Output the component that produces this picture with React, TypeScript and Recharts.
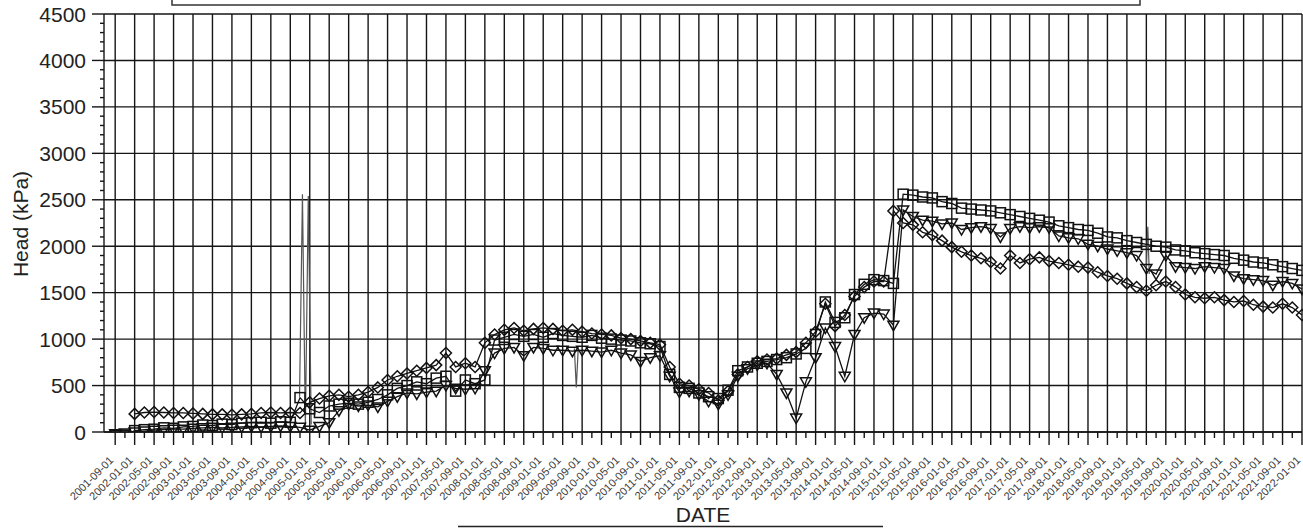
import React from "react";
import { LineChart, Line, XAxis, YAxis, ReferenceLine } from "recharts";

// x = months since 2001-09-01 (bimonthly readings)
const months = [
  0, 2, 4, 6, 8, 10, 12, 14, 16, 18, 20, 22, 24, 26, 28, 30, 32, 34, 36, 38,
  40, 42, 44, 46, 48, 50, 52, 54, 56, 58, 60, 62, 64, 66, 68, 70, 72, 74, 76, 78,
  80, 82, 84, 86, 88, 90, 92, 94, 96, 98, 100, 102, 104, 106, 108, 110, 112, 114, 116, 118,
  120, 122, 124, 126, 128, 130, 132, 134, 136, 138, 140, 142, 144, 146, 148, 150, 152, 154, 156, 158,
  160, 162, 164, 166, 168, 170, 172, 174, 176, 178, 180, 182, 184, 186, 188, 190, 192, 194, 196, 198,
  200, 202, 204, 206, 208, 210, 212, 214, 216, 218, 220, 222, 224, 226, 228, 230, 232, 234, 236, 238,
  240, 242, 244,
];

// Head (kPa), square markers
const squareHead = [
  -35, -35, 15, 25, 30, 45, 40, 55, 60, 75,
  70, 85, 80, 95, 100, 105, 95, 110, 105, 370,
  250, 210, 280, 300, 310, 300, 320, 350, 400, 470,
  500, 540, 520, 580, 600, 440, 560, 520, 560, 990,
  1020, 1050, 1030, 1050, 1020, 1060, 1040, 1030, 1020, 1040,
  1010, 1000, 990, 980, 960, 950, 920, 620, 480, 470,
  420, 380, 360, 450, 660, 700, 740, 760, 780, 800,
  840, 900, 1050, 1400, 1180, 1230, 1480, 1590, 1640, 1630,
  1600, 2560, 2550, 2530, 2520, 2480, 2460, 2410, 2400, 2390,
  2380, 2360, 2340, 2320, 2300, 2280, 2260, 2220, 2200, 2180,
  2170, 2140, 2100, 2090, 2060, 2040, 2020, 2000, 1990, 1960,
  1950, 1930, 1920, 1910, 1900, 1870, 1850, 1830, 1820, 1800,
  1780, 1760, 1740,
];

// Head (kPa), inverted triangle markers
const triangleHead = [
  -20, -10, 0, 10, 20, 25, 30, 30, 40, 45,
  50, 45, 50, 55, 60, 55, 60, 65, 60, 50,
  20, 60, 100, 230, 300, 280, 290, 270, 330, 380,
  420, 410, 430, 440, 500, 470, 460, 470, 660, 850,
  900, 910, 820, 910, 900, 880, 880, 870, 880, 870,
  860, 880, 850, 830, 760, 800, 820, 600, 430, 440,
  400, 330, 300, 400, 600, 680, 720, 740, 620, 420,
  150, 540, 800, 1120, 920, 600, 1050, 1230, 1280, 1270,
  1150, 2390, 2320, 2280, 2270, 2240, 2250, 2180, 2200, 2210,
  2190, 2100, 2190, 2210, 2200, 2210, 2200, 2110, 2090, 2080,
  2020, 2000, 1970, 1950, 1930, 1900, 1760, 1700, 1900, 1780,
  1770, 1760, 1780, 1770, 1760, 1680, 1650, 1640, 1630, 1580,
  1620, 1600, 1540,
];

// Head (kPa), diamond markers
const diamondHead = [
  null, null, 195, 210, 215, 210, 205, 205, 200, 195,
  190, 190, 185, 190, 195, 205, 210, 205, 210, 205,
  320, 360, 390, 400, 380, 400, 430, 480, 560, 600,
  630, 660, 690, 720, 850, 700, 740, 700, 960, 1050,
  1100, 1120, 1090, 1110, 1120, 1110, 1090, 1100, 1080, 1060,
  1050, 1040, 1010, 1000, 980, 960, 940, 700, 520, 500,
  460, 420, 340, 440, 620, 700, 760, 780, 790, 830,
  860, 960, 1080, 1380, 1140, 1260, 1460, 1560, 1620, 1620,
  2380, 2250, 2230, 2150, 2120, 2060, 1990, 1940, 1900, 1870,
  1830, 1760, 1900, 1820, 1860, 1880, 1840, 1820, 1800, 1780,
  1770, 1720, 1680, 1650, 1600, 1560, 1520, 1580, 1620, 1560,
  1480, 1450, 1440, 1450, 1420, 1400, 1410, 1370, 1350, 1340,
  1380, 1340, 1260,
];

// short-lived readings drawn as a thin line (null breaks the line)
const spikeMonths = [37.9, 38.5, 39.1, 39.7, 40.3, 41, 94.4, 94.8, 95.2, 96, 212.0, 212.3, 212.6];
const spikeHeads = [380, 2560, 60, 2540, 80, null, 900, 480, 900, null, 1760, 2210, 1700];

const dateLabels = [
  "2001-09-01",
  "2002-01-01", "2002-05-01", "2002-09-01",
  "2003-01-01", "2003-05-01", "2003-09-01",
  "2004-01-01", "2004-05-01", "2004-09-01",
  "2005-01-01", "2005-05-01", "2005-09-01",
  "2006-01-01", "2006-05-01", "2006-09-01",
  "2007-01-01", "2007-05-01", "2007-09-01",
  "2008-01-01", "2008-05-01", "2008-09-01",
  "2009-01-01", "2009-05-01", "2009-09-01",
  "2010-01-01", "2010-05-01", "2010-09-01",
  "2011-01-01", "2011-05-01", "2011-09-01",
  "2012-01-01", "2012-05-01", "2012-09-01",
  "2013-01-01", "2013-05-01", "2013-09-01",
  "2014-01-01", "2014-05-01", "2014-09-01",
  "2015-01-01", "2015-05-01", "2015-09-01",
  "2016-01-01", "2016-05-01", "2016-09-01",
  "2017-01-01", "2017-05-01", "2017-09-01",
  "2018-01-01", "2018-05-01", "2018-09-01",
  "2019-01-01", "2019-05-01", "2019-09-01",
  "2020-01-01", "2020-05-01", "2020-09-01",
  "2021-01-01", "2021-05-01", "2021-09-01",
  "2022-01-01",
];
const dateTickMonths = dateLabels.map((_, i) => i * 4);

const headMajor = [0, 500, 1000, 1500, 2000, 2500, 3000, 3500, 4000, 4500];
const headMinor: number[] = [];
for (let v = 0; v <= 4500; v += 100) headMinor.push(v);

const rows = months.map((m, i) => ({
  m,
  square: squareHead[i],
  triangle: triangleHead[i],
  diamond: diamondHead[i],
}));
const spikeRows = spikeMonths.map((m, i) => ({ m, v: spikeHeads[i] }));

const FONT = "'Liberation Sans', Arial, sans-serif";
const INK = "#151515";

const HeadTick = (props: any) => {
  const { x, y, payload } = props;
  const v = payload.value;
  const major = v % 500 === 0;
  return (
    <g>
      <line x1={x - (major ? 12 : 4)} y1={y} x2={x} y2={y} stroke={INK} strokeWidth={1.4} />
      {major && (
        <text x={x - 18} y={y} textAnchor="end" dominantBaseline="central" fontSize={21} fill="#222" fontFamily={FONT}>
          {v}
        </text>
      )}
    </g>
  );
};

const DateTick = (props: any) => {
  const { x, y, payload } = props;
  const m = payload.value;
  const major = m % 4 === 0;
  const tx = x - 1;
  const ty = y + 29;
  return (
    <g>
      <line x1={x} y1={y} x2={x} y2={y + (major ? 13 : 6)} stroke={INK} strokeWidth={1.4} />
      {major && (
        <text x={tx} y={ty} transform={`rotate(-45 ${tx} ${ty})`} textAnchor="end" fontSize={11} fill="#3a3a3a" fontFamily={FONT}>
          {dateLabels[m / 4]}
        </text>
      )}
    </g>
  );
};

const SquareDot = (p: any) => {
  if (p.cy == null || p.cx == null) return <g key={p.index} />;
  return <rect key={p.index} x={p.cx - 5} y={p.cy - 5} width={10} height={10} fill="none" stroke="#111" strokeWidth={1.5} />;
};
const TriangleDot = (p: any) => {
  if (p.cy == null || p.cx == null) return <g key={p.index} />;
  const { cx, cy } = p;
  return <path key={p.index} d={`M${cx - 5.5},${cy - 4} L${cx + 5.5},${cy - 4} L${cx},${cy + 5.5} Z`} fill="none" stroke="#111" strokeWidth={1.5} />;
};
const DiamondDot = (p: any) => {
  if (p.cy == null || p.cx == null) return <g key={p.index} />;
  const { cx, cy } = p;
  return <path key={p.index} d={`M${cx},${cy - 5.5} L${cx + 5.5},${cy} L${cx},${cy + 5.5} L${cx - 5.5},${cy} Z`} fill="none" stroke="#111" strokeWidth={1.5} />;
};

export default function App() {
  return (
    <div style={{ position: "absolute", left: 0, top: 0, width: 1303, height: 528, background: "#fff" }}>
      <LineChart width={1303} height={528} data={rows} margin={{ top: 14, right: 1, left: 0, bottom: 0 }}>
        {headMajor.map((v) => (
          <ReferenceLine key={`h${v}`} y={v} stroke={INK} strokeWidth={1.4} />
        ))}
        {dateTickMonths.map((m) => (
          <ReferenceLine key={`v${m}`} x={m} stroke={INK} strokeWidth={1.4} />
        ))}
        <XAxis
          type="number"
          dataKey="m"
          domain={[-2.3, 244]}
          ticks={months}
          interval={0}
          height={96}
          tickSize={0}
          tickMargin={0}
          tickLine={false}
          axisLine={{ stroke: INK, strokeWidth: 1.4 }}
          tick={(p: any) => <DateTick {...p} />}
        />
        <YAxis
          type="number"
          domain={[0, 4500]}
          allowDataOverflow
          ticks={headMinor}
          interval={0}
          width={104}
          tickSize={0}
          tickMargin={0}
          tickLine={false}
          axisLine={{ stroke: INK, strokeWidth: 1.4 }}
          tick={(p: any) => <HeadTick {...p} />}
        />
        <Line data={spikeRows} dataKey="v" stroke="#555" strokeWidth={1.2} dot={false} activeDot={false} isAnimationActive={false} />
        <Line dataKey="square" stroke="#111" strokeWidth={1.3} dot={SquareDot} activeDot={false} isAnimationActive={false} />
        <Line dataKey="triangle" stroke="#111" strokeWidth={1.3} dot={TriangleDot} activeDot={false} isAnimationActive={false} />
        <Line dataKey="diamond" stroke="#111" strokeWidth={1.3} dot={DiamondDot} activeDot={false} isAnimationActive={false} />
      </LineChart>
      <svg width={1303} height={528} style={{ position: "absolute", left: 0, top: 0, pointerEvents: "none" }}>
        <rect x={172} y={-10} width={968} height={15} fill="none" stroke="#333" strokeWidth={1.5} />
        <text
          x={20}
          y={224}
          transform="rotate(-90 20 224)"
          textAnchor="middle"
          dominantBaseline="central"
          fontSize={21}
          fill="#222"
          fontFamily={FONT}
        >
          Head (kPa)
        </text>
        <text x={703} y={522} textAnchor="middle" fontSize={21} fill="#222" fontFamily={FONT}>
          DATE
        </text>
        <line x1={458} y1={526.5} x2={883} y2={526.5} stroke="#222" strokeWidth={1.5} />
      </svg>
    </div>
  );
}
